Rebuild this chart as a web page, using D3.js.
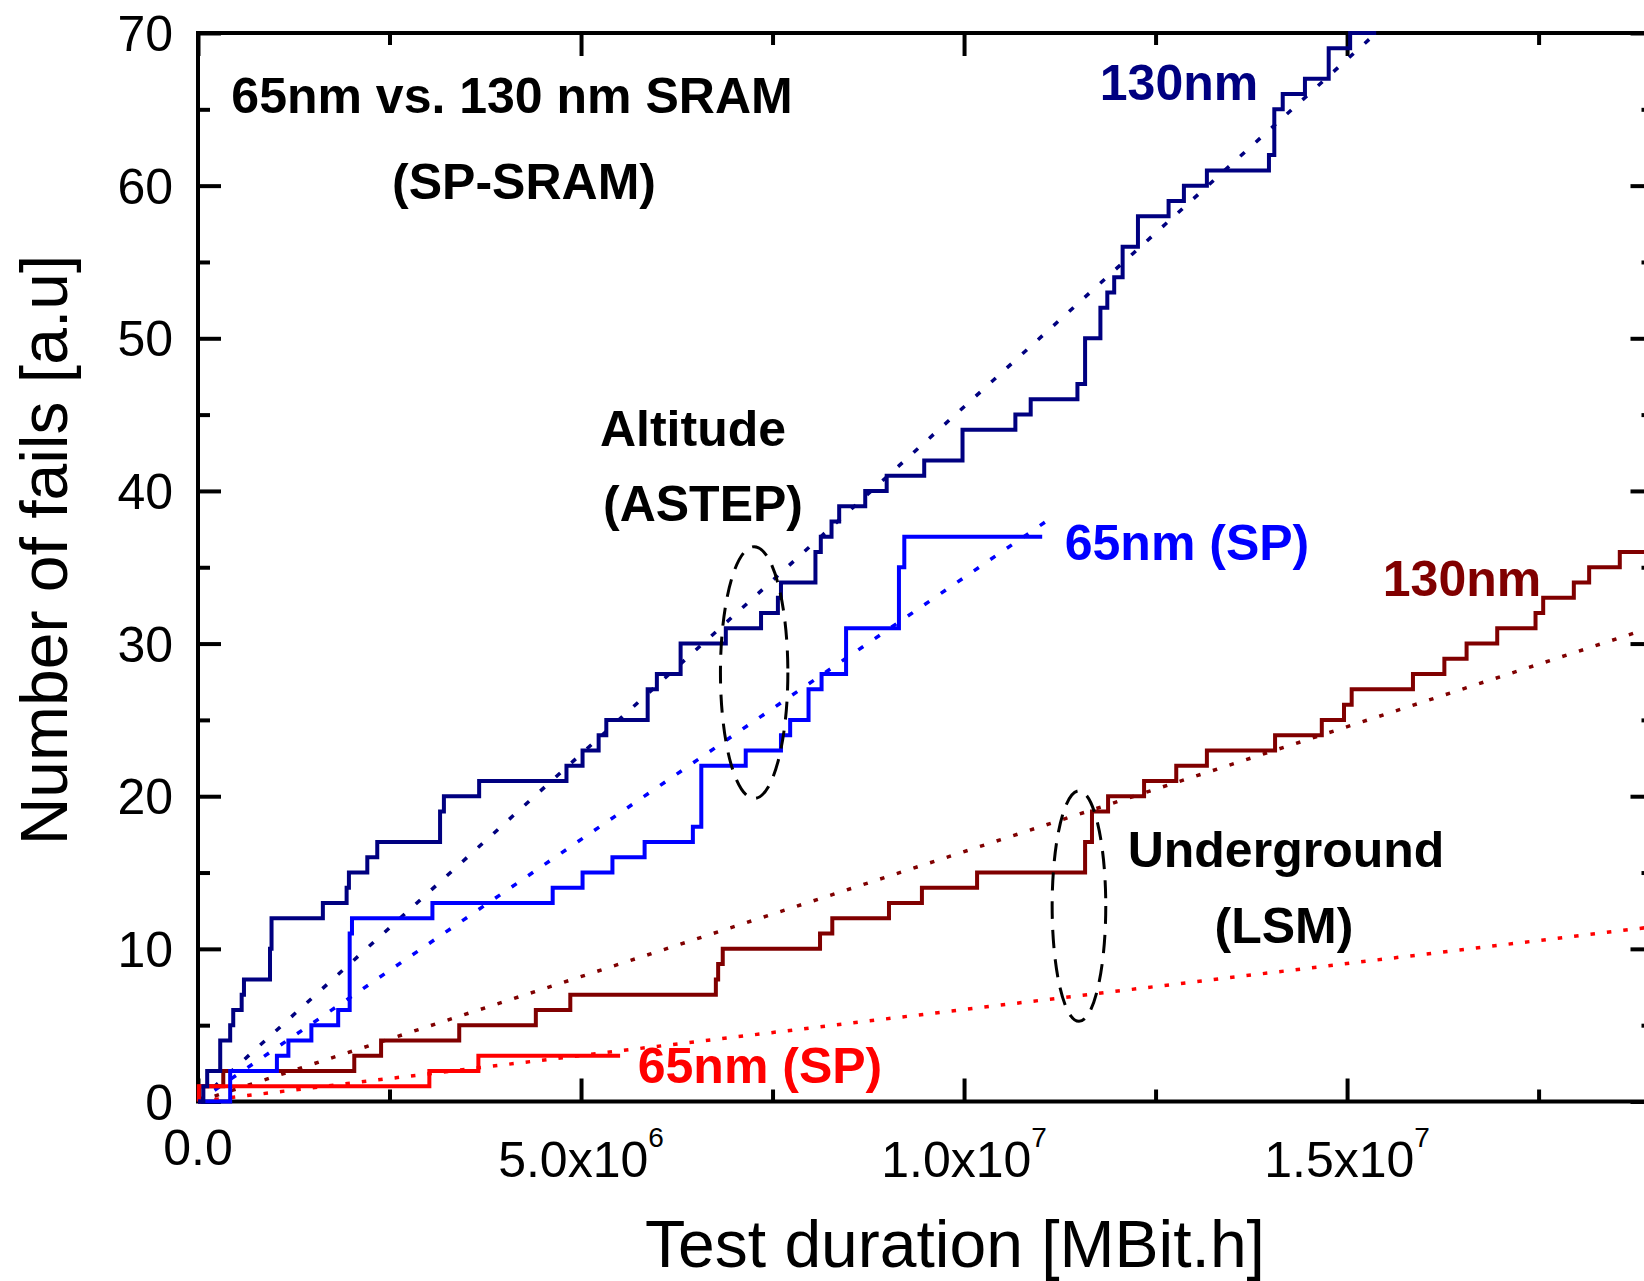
<!DOCTYPE html>
<html>
<head>
<meta charset="utf-8">
<script src="https://cdn.jsdelivr.net/npm/d3@7"></script>
<style>
body { margin: 0; background: #fff; }
svg { display: block; font-family: "Liberation Sans", Arial, sans-serif; }
.axis line { stroke: #000; stroke-width: 4; }
.axis .domain { display: none; }
.axis text { font-size: 50px; font-family: "Liberation Sans", Arial, sans-serif; fill: #000; }
.note { font-weight: bold; font-size: 50px; }
</style>
</head>
<body>
<svg id="chart" width="1644" height="1281"></svg>
<script>
// x in units of 10^6 MBit.h, y = cumulative number of fails
const alt130X = [0, 0.07, 0.12, 0.29, 0.42, 0.46, 0.57, 0.60, 0.94, 0.96, 1.63, 1.94, 1.97, 2.21, 2.34, 3.16, 3.21, 3.67, 4.81, 5.02,
  5.23, 5.33, 5.87, 5.99, 6.30, 6.89, 7.35, 7.57, 7.61, 8.06, 8.13, 8.27, 8.37, 8.71, 8.99, 9.48, 9.98, 10.67, 10.87, 11.48,
  11.58, 11.78, 11.87, 11.96, 12.07, 12.27, 12.67, 12.87, 13.17, 13.98, 14.05, 14.16, 14.45, 14.76, 15.04, 15.38];
const alt130Y = [0, 1, 2, 4, 5, 6, 7, 8, 10, 12, 13, 14, 15, 16, 17, 19, 20, 21, 22, 23,
  24, 25, 27, 28, 30, 31, 32, 33, 34, 36, 37, 38, 39, 40, 41, 42, 44, 45, 46, 47,
  50, 52, 53, 54, 56, 58, 59, 60, 61, 62, 65, 66, 67, 69, 70, 70];

const alt65X = [0, 0.42, 1.03, 1.18, 1.48, 1.83, 1.98, 2.01, 3.06, 4.63, 5.02, 5.41, 5.83, 6.46, 6.57, 7.15, 7.61, 7.73, 7.97, 8.14, 8.46, 9.15, 9.22, 11.02];
const alt65Y = [0, 2, 3, 4, 5, 6, 11, 12, 13, 14, 15, 16, 17, 18, 22, 23, 24, 25, 27, 28, 31, 35, 37, 37];

const lsm130X = [0, 0.02, 0.33, 2.04, 2.39, 3.41, 4.41, 4.86, 6.76, 6.79, 6.85, 8.12, 8.28, 9.02, 9.45, 10.17, 11.58, 11.67, 11.88, 12.35,
  12.77, 13.17, 14.06, 14.67, 14.96, 15.06, 15.86, 16.27, 16.56, 16.96, 17.46, 17.56, 17.96, 18.16, 18.56, 19.0];
const lsm130Y = [0, 1, 2, 3, 4, 5, 6, 7, 8, 9, 10, 11, 12, 13, 14, 15, 17, 19, 20, 21,
  22, 23, 24, 25, 26, 27, 28, 29, 30, 31, 32, 33, 34, 35, 36, 36];

const lsm65X = [0, 0.01, 3.02, 3.66, 5.51];
const lsm65Y = [0, 1, 2, 3, 3];

// linear fits: [x end, y end], starting from origin
const fitAlt130 = [15.38, 70];
const fitAlt65 = [11.1, 38.1];
const fitLsm130 = [19, 31.1];
const fitLsm65 = [19, 11.45];

const xMajor = [0, 5, 10, 15];
const xMinor = [2.5, 7.5, 12.5, 17.5];
const xTickMant = ["0.0", "5.0x10", "1.0x10", "1.5x10"];
const xTickExp = ["", "6", "7", "7"];
const yMajor = [0, 10, 20, 30, 40, 50, 60, 70];
const yMinor = [5, 15, 25, 35, 45, 55, 65];

// ellipses: center x, center y, half width, half height (data units)
const ellAlt = [7.26, 28.1, 0.44, 8.25];
const ellLsm = [11.5, 12.8, 0.35, 7.55];

const svg = d3.select("#chart");
const x = d3.scaleLinear().domain([0, 19]).range([198, 1653.5]);
const y = d3.scaleLinear().domain([0, 70]).range([1101.5, 33]);

// axes ticks (pointing inward)
svg.append("g").attr("class", "axis").attr("transform", `translate(0,${y(0)})`)
  .call(d3.axisBottom(x).tickValues(xMajor).tickSize(-23).tickFormat(""));
svg.append("g").attr("class", "axis").attr("transform", `translate(0,${y(0)})`)
  .call(d3.axisBottom(x).tickValues(xMinor).tickSize(-12).tickFormat(""));
svg.append("g").attr("class", "axis").attr("transform", `translate(0,${y(70)})`)
  .call(d3.axisTop(x).tickValues(xMajor).tickSize(-23).tickFormat(""));
svg.append("g").attr("class", "axis").attr("transform", `translate(0,${y(70)})`)
  .call(d3.axisTop(x).tickValues(xMinor).tickSize(-12).tickFormat(""));

const left = svg.append("g").attr("class", "axis").attr("transform", `translate(${x(0)},0)`)
  .call(d3.axisLeft(y).tickValues(yMajor).tickSize(-23).tickPadding(25).tickFormat(d3.format("d")));
left.selectAll("text").attr("dy", "0.35em");
svg.append("g").attr("class", "axis").attr("transform", `translate(${x(0)},0)`)
  .call(d3.axisLeft(y).tickValues(yMinor).tickSize(-12).tickFormat(""));
svg.append("g").attr("class", "axis").attr("transform", `translate(${x(19)},0)`)
  .call(d3.axisRight(y).tickValues(yMajor).tickSize(-23).tickFormat(""));
svg.append("g").attr("class", "axis").attr("transform", `translate(${x(19)},0)`)
  .call(d3.axisRight(y).tickValues(yMinor).tickSize(-12).tickFormat(""));

// frame
svg.append("rect")
  .attr("x", x(0)).attr("y", y(70))
  .attr("width", x(19) - x(0)).attr("height", y(0) - y(70))
  .attr("fill", "none").attr("stroke", "#000").attr("stroke-width", 4);

// x tick labels with exponents (labels with an exponent sit lower)
const xl = svg.selectAll("text.xtick").data(xMajor).enter().append("text")
  .attr("class", "xtick")
  .attr("x", d => x(d)).attr("y", (d, i) => xTickExp[i] ? 1177 : 1165)
  .attr("text-anchor", "middle").attr("font-size", 50);
xl.append("tspan").text((d, i) => xTickMant[i]);
xl.append("tspan").attr("dy", -30).attr("font-size", 28).text((d, i) => xTickExp[i]);

// axis titles
svg.append("text").attr("x", 955).attr("y", 1267).attr("text-anchor", "middle")
  .attr("font-size", 66).text("Test duration [MBit.h]");
svg.append("text").attr("transform", "translate(67,550) rotate(-90)").attr("text-anchor", "middle")
  .attr("font-size", 66).text("Number of fails [a.u]");

// fit lines
const fits = [
  {end: fitLsm65, color: "#ff0000", dash: "4.5 12"},
  {end: fitLsm130, color: "#800000", dash: "4.5 13"},
  {end: fitAlt65, color: "#0000ff", dash: "6 14"},
  {end: fitAlt130, color: "#000080", dash: "6 15"}
];
svg.selectAll("line.fit").data(fits).enter().append("line")
  .attr("class", "fit")
  .attr("x1", x(0)).attr("y1", y(0))
  .attr("x2", d => x(d.end[0])).attr("y2", d => y(d.end[1]))
  .attr("stroke", d => d.color).attr("stroke-width", 3.5)
  .attr("stroke-dasharray", d => d.dash);

// step series
const step = d3.line().x(d => x(d[0])).y(d => y(d[1])).curve(d3.curveStepAfter);
const series = [
  {xs: lsm130X, ys: lsm130Y, color: "#800000"},
  {xs: lsm65X, ys: lsm65Y, color: "#ff0000"},
  {xs: alt65X, ys: alt65Y, color: "#0000ff"},
  {xs: alt130X, ys: alt130Y, color: "#000080"}
];
svg.selectAll("path.step").data(series).enter().append("path")
  .attr("class", "step")
  .attr("d", d => step(d.xs.map((v, i) => [v, d.ys[i]])))
  .attr("fill", "none").attr("stroke", d => d.color).attr("stroke-width", 4);

// dashed ellipses
svg.selectAll("ellipse").data([ellAlt, ellLsm]).enter().append("ellipse")
  .attr("cx", d => x(d[0])).attr("cy", d => y(d[1]))
  .attr("rx", d => x(d[2]) - x(0)).attr("ry", d => y(0) - y(d[3]))
  .attr("fill", "none").attr("stroke", "#000").attr("stroke-width", 3)
  .attr("stroke-dasharray", "18 11");

// annotations
const notes = [
  {t: "65nm vs. 130 nm SRAM", x: 512, y: 113, c: "#000"},
  {t: "(SP-SRAM)", x: 524, y: 199, c: "#000"},
  {t: "130nm", x: 1179, y: 100, c: "#000080"},
  {t: "Altitude", x: 693, y: 446, c: "#000"},
  {t: "(ASTEP)", x: 703, y: 521, c: "#000"},
  {t: "65nm (SP)", x: 1187, y: 560, c: "#0000ff"},
  {t: "130nm", x: 1462, y: 596, c: "#800000"},
  {t: "Underground", x: 1286, y: 867, c: "#000"},
  {t: "(LSM)", x: 1284, y: 943, c: "#000"},
  {t: "65nm (SP)", x: 760, y: 1083, c: "#ff0000"}
];
svg.selectAll("text.note").data(notes).enter().append("text")
  .attr("class", "note")
  .attr("x", d => d.x).attr("y", d => d.y)
  .attr("text-anchor", "middle").attr("fill", d => d.c)
  .text(d => d.t);
</script>
</body>
</html>
